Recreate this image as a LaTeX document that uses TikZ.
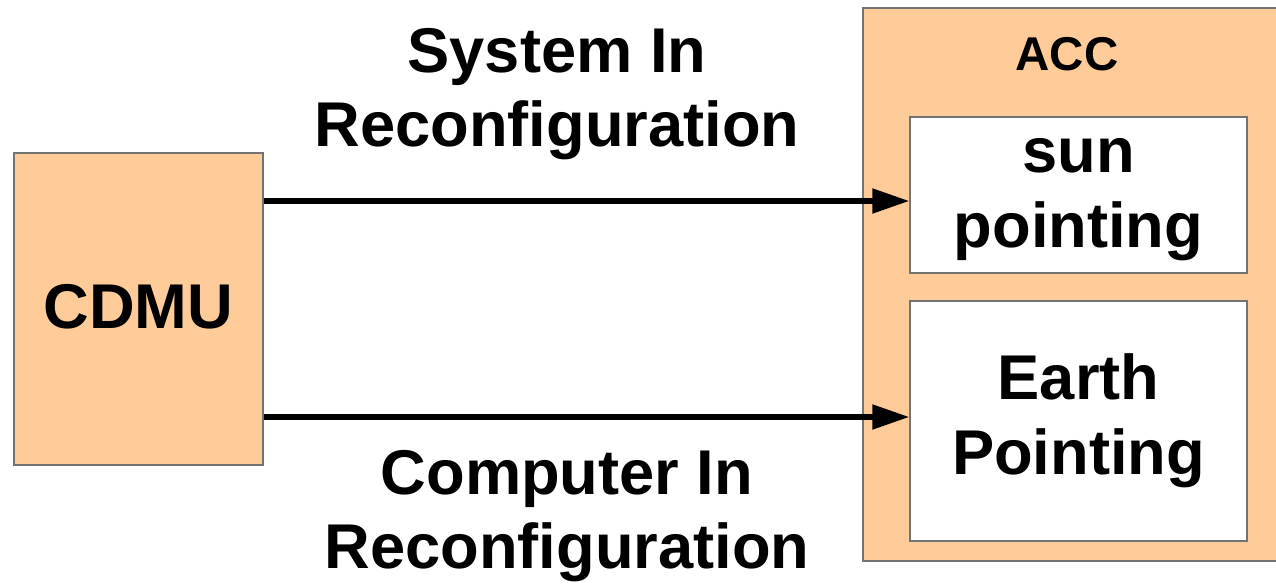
\documentclass[tikz,border=0pt]{standalone}
\usepackage{fontspec}
\setmainfont{Liberation Sans}
\usetikzlibrary{arrows.meta}
\usetikzlibrary{calc}

\definecolor{peach}{HTML}{FFCC99}

\begin{document}
\begin{tikzpicture}[x=0.02cm, y=-0.02cm,
    block/.style={draw=black!55, line width=0.9pt, fill=peach, inner sep=0pt},
    mode/.style={draw=black!55, line width=0.9pt, fill=white, inner sep=0pt, align=center, font=\fontsize{36}{42.5}\selectfont\bfseries},
    signal/.style={line width=3pt, -{Triangle[length=0.74cm, width=0.48cm]}},
    msg/.style={align=center, font=\fontsize{36}{42.5}\selectfont\bfseries}]

    \useasboundingbox (0, 0) rectangle (1276, 583);

    % units and boxes
    \node[block, minimum width=4.98cm, minimum height=6.24cm, font=\fontsize{36}{42.5}\selectfont\bfseries] (cdmu) at (138.5, 309) {\raisebox{0.1cm}{CDMU}};
    \node[block, minimum width=8.44cm, minimum height=11.06cm] (acc) at (1074, 284.5) {};
    \node[font=\fontsize{27}{32}\selectfont\bfseries] (accname) at (1067, 54) {ACC};
    \node[mode, minimum width=6.74cm, minimum height=3.12cm] (sun) at (1078.5, 195) {\vphantom{A}sun\\pointing};
    \node[mode, minimum width=6.74cm, minimum height=4.8cm] (earth) at (1078.5, 421) {Earth\\Pointing};

    % signals
    \coordinate (sunin) at ($(sun.west) + (0, 6)$);
    \coordinate (earthin) at ($(earth.west) + (0, -4)$);
    \draw[signal] (cdmu.east |- sunin) -- (sunin);
    \draw[signal] (cdmu.east |- earthin) -- (earthin);

    \node[msg] (sysmsg) at (557, 94) {System In\\Reconfiguration};
    \node[msg] (compmsg) at (567, 516) {Computer In\\Reconfiguration};

\end{tikzpicture}
\end{document}
